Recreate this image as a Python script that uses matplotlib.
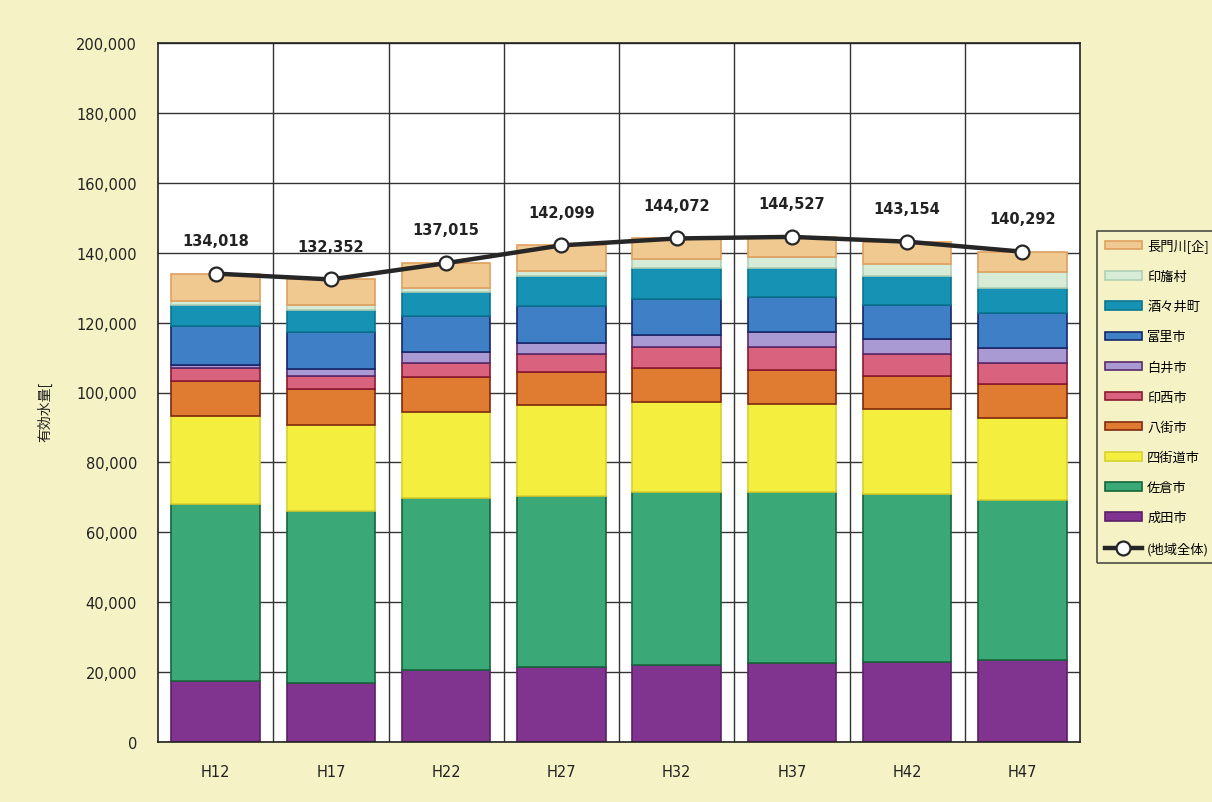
import numpy as np
import matplotlib
matplotlib.use("Agg")
import matplotlib.pyplot as plt
from matplotlib.ticker import FuncFormatter

plt.rcParams['font.family'] = ['DejaVu Sans', 'Noto Sans CJK JP']

years = ["H12", "H17", "H22", "H27", "H32", "H37", "H42", "H47"]

# stacked series, bottom to top
narita = [17500, 17000, 20600, 21600, 22100, 22600, 22900, 23400]
sakura = [50600, 49100, 49100, 48800, 49400, 49000, 48000, 45900]
yotsukaido = [25100, 24700, 24600, 26000, 25900, 25200, 24400, 23500]
yachimata = [10000, 10300, 10100, 9500, 9700, 9600, 9500, 9700]
inzai = [3700, 3600, 4100, 5000, 5900, 6600, 6100, 5800]
shiroi = [1100, 1900, 3100, 3200, 3500, 4200, 4400, 4500]
tomisato = [11100, 10600, 10300, 10700, 10300, 10100, 9800, 9900]
shisui = [5900, 6400, 6900, 8400, 8700, 8200, 8300, 7300]
inba = [1200, 1400, 1100, 1700, 2600, 3200, 3500, 4600]
nagatogawa = [7818, 7352, 7115, 7199, 5972, 5827, 6254, 5692]

total = [134018, 132352, 137015, 142099, 144072, 144527, 143154, 140292]

series = [
    ("成田市", narita, "#80338f", "#5c1f6b"),
    ("佐倉市", sakura, "#3aa877", "#17653a"),
    ("四街道市", yotsukaido, "#f4ee3e", "#d8d030"),
    ("八街市", yachimata, "#e07c32", "#7f2a10"),
    ("印西市", inzai, "#d9637f", "#8a1a30"),
    ("白井市", shiroi, "#a99ad4", "#5a2a6a"),
    ("富里市", tomisato, "#3f7fc6", "#16286a"),
    ("酒々井町", shisui, "#1592b4", "#0b7592"),
    ("印旛村", inba, "#d6ecd6", "#b0d0b4"),
    ("長門川[企]", nagatogawa, "#f0c990", "#e0a060"),
]

bg = "#f5f3c6"
fig = plt.figure(figsize=(12.12, 8.03), dpi=100, facecolor=bg)
ax = fig.add_axes([158 / 1212, 1 - 743 / 803, 922 / 1212, 699 / 803])
ax.set_facecolor("white")

x = np.arange(len(years))
bottom = np.zeros(len(years))
handles = []
for name, vals, col, edge in series:
    b = ax.bar(x, vals, width=0.77, bottom=bottom, color=col,
               edgecolor=edge, linewidth=1.2, label=name, zorder=2)
    handles.append(b)
    bottom += np.array(vals)

line, = ax.plot(x, total, color="#262626", lw=3.2, marker="o", ms=10,
                mfc="white", mec="#262626", mew=1.6, zorder=4,
                label="(地域全体)")

for xi, t in zip(x, total):
    ax.annotate(f"{t:,}", (xi, t), xytext=(0, 24), textcoords="offset points",
                ha="center", va="center", fontsize=10.5, fontweight="bold",
                color="#222222", zorder=5)

ax.set_xlim(-0.5, len(years) - 0.5)
ax.set_ylim(0, 200000)
ax.set_yticks(np.arange(0, 200001, 20000))
ax.yaxis.set_major_formatter(FuncFormatter(lambda v, p: f"{int(v):,}"))
ax.set_xticks(x)
ax.set_xticklabels(years)
ax.tick_params(axis="y", length=0, pad=15, labelsize=10.5, colors="#222222")
ax.tick_params(axis="x", length=0, pad=16, labelsize=10.5, colors="#222222")

ax.grid(axis="y", color="#333333", lw=1.0, zorder=0)
for xb in np.arange(0.5, len(years) - 0.5, 1):
    ax.axvline(xb, color="#333333", lw=1.0, zorder=0)
for s in ax.spines.values():
    s.set_color("#222222")
    s.set_linewidth(1.2)

fig.text(45 / 1212, 1 - 412 / 803, "有効水量[", rotation=90, ha="center",
         va="center", fontsize=10, family=["Noto Sans CJK JP", "DejaVu Sans"],
         color="#222222")

leg_handles = handles[::-1] + [line]
leg_labels = [s[0] for s in series[::-1]] + ["(地域全体)"]
leg = fig.legend(leg_handles, leg_labels, loc="upper left",
                 bbox_to_anchor=(1097 / 1212, 1 - 232 / 803),
                 prop={"family": ["Noto Sans CJK JP", "DejaVu Sans"], "size": 9.5},
                 frameon=True, fancybox=False, edgecolor="#222222",
                 facecolor="none", handlelength=2.8, handleheight=0.6,
                 labelspacing=1.3, handletextpad=0.4, borderpad=0.6,
                 borderaxespad=0)
leg.get_frame().set_linewidth(1.2)

fig.savefig("out.png", dpi=100, facecolor=bg)
